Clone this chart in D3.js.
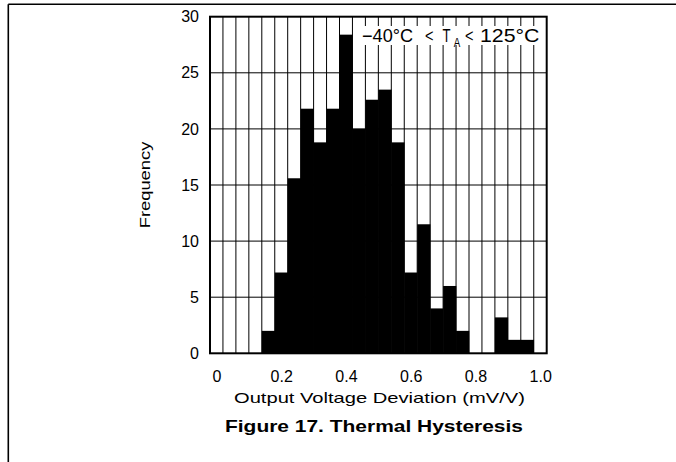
<!DOCTYPE html>
<html>
<head>
<meta charset="utf-8">
<script src="https://cdn.jsdelivr.net/npm/d3@7"></script>
<style>
  html, body { margin: 0; padding: 0; background: #fff; }
  svg { display: block; }
  text { font-family: "Liberation Sans", Arial, sans-serif; fill: #000; }
</style>
</head>
<body>
<svg id="chart" width="676" height="462"></svg>
<script>
// ---- data ----
const binCenters = [0.00, 0.04, 0.08, 0.12, 0.16, 0.20, 0.24, 0.28, 0.32, 0.36,
                    0.40, 0.44, 0.48, 0.52, 0.56, 0.60, 0.64, 0.68, 0.72, 0.76,
                    0.80, 0.84, 0.88, 0.92, 0.96, 1.00];
const frequency = [0, 0, 0, 0, 2, 7.2, 15.6, 21.8, 18.8, 21.8,
                   28.4, 20, 22.6, 23.5, 18.8, 7.2, 11.5, 4, 6, 2,
                   0, 0, 3.2, 1.2, 1.2, 0];
const binWidth = 0.04;
const xTicks = [0, 0.2, 0.4, 0.6, 0.8, 1.0];
const xTickLabels = ["0", "0.2", "0.4", "0.6", "0.8", "1.0"];
const yTicks = [0, 5, 10, 15, 20, 25, 30];
const yGrid = [5, 10, 15, 20, 25];
const xTitle = "Output Voltage Deviation (mV/V)";
const yTitle = "Frequency";
const figTitle = "Figure 17. Thermal Hysteresis";

// ---- layout ----
const L = 210, R = 546.7, T = 16.7, B = 353.3;
const svg = d3.select("#chart");

const x = d3.scaleLinear().domain([-0.02, 1.02]).range([L, R]);
const y = d3.scaleLinear().domain([0, 30]).range([B, T]);

// outer frame lines
svg.append("line").attr("x1", 8.3).attr("x2", 676).attr("y1", 4.3).attr("y2", 4.3)
  .attr("stroke", "#000").attr("stroke-width", 1.6);
svg.append("line").attr("x1", 8.3).attr("x2", 8.3).attr("y1", 4.3).attr("y2", 462)
  .attr("stroke", "#000").attr("stroke-width", 1.6);

// grid: vertical lines at bin edges
const edges = binCenters.slice(1).map(c => c - binWidth / 2);
svg.append("g").selectAll("line").data(edges).join("line")
  .attr("x1", d => x(d)).attr("x2", d => x(d))
  .attr("y1", T).attr("y2", B)
  .attr("stroke", "#000").attr("stroke-width", 1);

svg.append("g").selectAll("line").data(yGrid).join("line")
  .attr("x1", L).attr("x2", R)
  .attr("y1", d => y(d)).attr("y2", d => y(d))
  .attr("stroke", "#000").attr("stroke-width", 1);

// bars
svg.append("g").selectAll("rect").data(binCenters.map((c, i) => ({c, f: frequency[i]})))
  .join("rect")
  .attr("x", d => x(d.c - binWidth / 2))
  .attr("width", d => x(d.c + binWidth / 2) - x(d.c - binWidth / 2) + 0.3)
  .attr("y", d => y(d.f))
  .attr("height", d => y(0) - y(d.f))
  .attr("fill", "#000");

// condition box
svg.append("rect").attr("x", 358).attr("y", 26).attr("width", R - 1.2 - 358).attr("height", 19)
  .attr("fill", "#fff");
const cond = svg.append("g").attr("font-size", 18);
cond.append("text").attr("x", 362).attr("y", 42).attr("textLength", 51)
  .attr("lengthAdjust", "spacingAndGlyphs").text("\u221240\u00B0C");
cond.append("text").attr("x", 425).attr("y", 42).attr("textLength", 8.5)
  .attr("lengthAdjust", "spacingAndGlyphs").text("<");
cond.append("text").attr("x", 442.5).attr("y", 42).attr("textLength", 8)
  .attr("lengthAdjust", "spacingAndGlyphs").text("T");
cond.append("text").attr("x", 453.8).attr("y", 47).attr("font-size", 13).attr("textLength", 6.5)
  .attr("lengthAdjust", "spacingAndGlyphs").text("A");
cond.append("text").attr("x", 465).attr("y", 42).attr("textLength", 8.5)
  .attr("lengthAdjust", "spacingAndGlyphs").text("<");
cond.append("text").attr("x", 480).attr("y", 42).attr("textLength", 59.5)
  .attr("lengthAdjust", "spacingAndGlyphs").text("125\u00B0C");

// plot border
svg.append("rect").attr("x", L).attr("y", T).attr("width", R - L).attr("height", B - T)
  .attr("fill", "none").attr("stroke", "#000").attr("stroke-width", 2);

// axes
const xAxis = d3.axisBottom(x).tickValues(xTicks).tickSize(0).tickPadding(17)
  .tickFormat((d, i) => xTickLabels[i]);
const gx = svg.append("g").attr("transform", `translate(0,${B})`).call(xAxis);
gx.select(".domain").remove();
gx.selectAll("text").attr("font-size", 16).attr("font-family", "Liberation Sans, Arial, sans-serif")
  .attr("fill", "#000");

const yAxis = d3.axisLeft(y).tickValues(yTicks).tickSize(0).tickPadding(11);
const gy = svg.append("g").attr("transform", `translate(${L},0)`).call(yAxis);
gy.select(".domain").remove();
gy.selectAll("text").attr("font-size", 16).attr("font-family", "Liberation Sans, Arial, sans-serif")
  .attr("fill", "#000");

// titles
svg.append("text").attr("x", 234).attr("y", 403).attr("font-size", 14.5)
  .attr("textLength", 291).attr("lengthAdjust", "spacingAndGlyphs").text(xTitle);

svg.append("text").attr("transform", "translate(150,228.3) rotate(-90)")
  .attr("font-size", 14.5).attr("textLength", 86.6).attr("lengthAdjust", "spacingAndGlyphs")
  .text(yTitle);

svg.append("text").attr("x", 225).attr("y", 432).attr("font-size", 16.5)
  .attr("font-weight", "bold").attr("textLength", 298).attr("lengthAdjust", "spacingAndGlyphs")
  .text(figTitle);
</script>
</body>
</html>
